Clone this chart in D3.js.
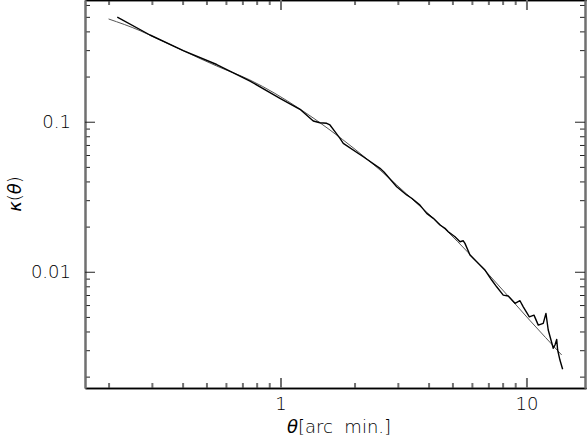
<!DOCTYPE html>
<html>
<head>
<meta charset="utf-8">
<script src="https://cdn.jsdelivr.net/npm/d3@7"></script>
<style>
  body { margin: 0; background: #fff; }
  svg { display: block; font-family: "DejaVu Sans", "Liberation Sans", sans-serif; font-weight: 200; }
  .tickLabel { font-size: 18px; fill: #000; }
  .axisTitle { font-size: 18px; fill: #000; white-space: pre; }
</style>
</head>
<body>
<div id="kappaPlot"></div>
<script>
// Fit (smooth model) curve
let thetaFit = [0.2, 0.2685, 0.304, 0.5503, 0.75, 1.2, 1.59, 2.54, 3.46, 4.75, 7.1, 10.3, 13.9]
let kappaFit = [0.484, 0.4044, 0.3686, 0.2351, 0.19, 0.1216, 0.088, 0.0476, 0.0301, 0.0187, 0.0094, 0.00476, 0.00279]

let thetaObs = [0.217, 0.2947, 0.4025, 0.5503, 0.752, 0.995, 1.2, 1.359, 1.447, 1.541, 1.589, 1.665, 1.745, 1.8,
                2.171, 2.538, 2.634, 2.968, 3.258, 3.415, 3.69, 3.93, 4.18, 4.45, 4.664, 4.81, 5.122,
                5.366, 5.535, 5.623, 5.893, 6.276, 6.783, 7.22, 7.566, 8.047, 8.433, 8.981, 9.41, 9.706,
                10.27, 10.73, 11.17, 11.7, 12.0, 12.26, 12.85, 13.06, 13.27, 13.39, 13.68, 14.03]
let kappaObs = [0.497, 0.3784, 0.2974, 0.2406, 0.1867, 0.1432, 0.121, 0.1011, 0.0985, 0.0976, 0.0951, 0.0858, 0.0775, 0.0718,
                0.0584, 0.0489, 0.0462, 0.0369, 0.0325, 0.0309, 0.0278, 0.0245, 0.0227, 0.0205, 0.01947, 0.01848, 0.01711,
                0.01585, 0.01609, 0.01546, 0.01292, 0.01166, 0.01026, 0.00881, 0.00794, 0.00699, 0.00689, 0.00616, 0.00641, 0.00584,
                0.00501, 0.00514, 0.00441, 0.00453, 0.00528, 0.00409, 0.00309, 0.00325, 0.00354, 0.00301, 0.00258, 0.00224]

// Ticks
let xMajor = [1, 10]
let xMinor = [0.2, 0.3, 0.4, 0.5, 0.6, 0.7, 0.8, 0.9, 2, 3, 4, 5, 6, 7, 8, 9]
let yMajor = [0.1, 0.01]
let yMinor = [0.6, 0.5, 0.4, 0.3, 0.2, 0.09, 0.08, 0.07, 0.06, 0.05, 0.04, 0.03, 0.02,
              0.009, 0.008, 0.007, 0.006, 0.005, 0.004, 0.003, 0.002]
let xTickLabels = ["1", "10"]
let yTickLabels = ["0.1", "0.01"]

makeGraph()

function makeGraph() {
    let width = 587
    let height = 438
    let left = 85, right = 586, top = 0, bottom = 388

    const svg = d3.select("#kappaPlot")
                .append("svg")
                .attr("width", width)
                .attr("height", height)

    // log scales
    let xScale = d3.scaleLog().domain([0.1604, 17.46]).range([left, right])
    let yScale = d3.scaleLog().domain([0.6475, 0.00168]).range([top, bottom])

    let fmtX = d => xTickLabels[xMajor.indexOf(d)]
    let fmtY = d => yTickLabels[yMajor.indexOf(d)]

    // bottom axis
    svg.append("g").attr("class", "axis xb")
       .attr("transform", `translate(0,${bottom})`)
       .call(d3.axisBottom(xScale).tickValues(xMinor).tickSize(-5).tickSizeOuter(0).tickFormat(""))
    svg.append("g").attr("class", "axis xb")
       .attr("transform", `translate(0,${bottom})`)
       .call(d3.axisBottom(xScale).tickValues(xMajor).tickSize(-10).tickSizeOuter(0).tickPadding(9).tickFormat(fmtX))

    // top axis (ticks only)
    svg.append("g").attr("class", "axis xt")
       .attr("transform", `translate(0,${top})`)
       .call(d3.axisTop(xScale).tickValues(xMinor).tickSize(-5).tickSizeOuter(0).tickFormat(""))
    svg.append("g").attr("class", "axis xt")
       .attr("transform", `translate(0,${top})`)
       .call(d3.axisTop(xScale).tickValues(xMajor).tickSize(-10).tickSizeOuter(0).tickFormat(""))

    // left axis
    svg.append("g").attr("class", "axis yl")
       .attr("transform", `translate(${left},0)`)
       .call(d3.axisLeft(yScale).tickValues(yMinor).tickSize(-5).tickSizeOuter(0).tickFormat(""))
    svg.append("g").attr("class", "axis yl")
       .attr("transform", `translate(${left},0)`)
       .call(d3.axisLeft(yScale).tickValues(yMajor).tickSize(-10).tickSizeOuter(0).tickPadding(14).tickFormat(fmtY))

    // right axis (ticks only)
    svg.append("g").attr("class", "axis yr")
       .attr("transform", `translate(${right - 1},0)`)
       .call(d3.axisRight(yScale).tickValues(yMinor).tickSize(-5).tickSizeOuter(0).tickFormat(""))
    svg.append("g").attr("class", "axis yr")
       .attr("transform", `translate(${right - 1},0)`)
       .call(d3.axisRight(yScale).tickValues(yMajor).tickSize(-10).tickSizeOuter(0).tickFormat(""))

    // styling: vertical strokes look grey & 2px wide in the original
    svg.selectAll(".axis").attr("font-family", null).attr("font-size", null)
    svg.selectAll(".xb .domain, .xt .domain").attr("stroke", "#000").attr("stroke-width", 1.5)
    svg.selectAll(".yl .domain, .yr .domain").attr("stroke", "#707070").attr("stroke-width", 2)
    svg.selectAll(".xb .tick line, .xt .tick line").attr("stroke", "#707070").attr("stroke-width", 2)
    svg.selectAll(".yl .tick line, .yr .tick line").attr("stroke", "#222").attr("stroke-width", 1)
    svg.selectAll(".axis text").attr("class", "tickLabel")

    let line = d3.line()
                 .x(d => xScale(d[0]))
                 .y(d => yScale(d[1]))

    // fit curve
    svg.append("path")
       .datum(thetaFit.map((t, i) => [t, kappaFit[i]]))
       .attr("fill", "none")
       .attr("stroke", "#555")
       .attr("stroke-width", 1)
       .attr("d", line.curve(d3.curveMonotoneX))

    // measured curve
    svg.append("path")
       .datum(thetaObs.map((t, i) => [t, kappaObs[i]]))
       .attr("fill", "none")
       .attr("stroke", "#000")
       .attr("stroke-width", 1.4)
       .attr("stroke-linejoin", "round")
       .attr("d", line.curve(d3.curveLinear))

    // axis titles
    let xt = svg.append("text")
       .attr("class", "axisTitle")
       .attr("text-anchor", "middle")
       .attr("x", 339)
       .attr("y", 433)
    xt.append("tspan").attr("font-style", "italic").text("θ")
    xt.append("tspan").text("[arc  min.]")

    let yt = svg.append("text")
       .attr("class", "axisTitle")
       .attr("text-anchor", "middle")
       .attr("transform", `translate(21,${(top + bottom) / 2}) rotate(-90)`)
    yt.append("tspan").attr("font-style", "italic").text("κ")
    yt.append("tspan").text("(")
    yt.append("tspan").attr("font-style", "italic").text("θ")
    yt.append("tspan").text(")")
}
</script>
</body>
</html>
